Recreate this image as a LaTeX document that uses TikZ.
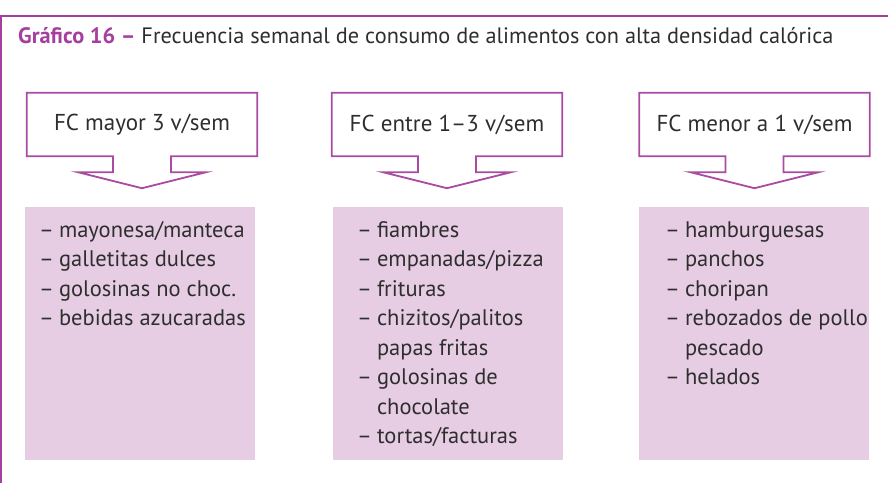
\documentclass[tikz,border=0pt]{standalone}
\usepackage{fontspec}
\setmainfont{PT Sans}
\usetikzlibrary{calc}
\definecolor{framepurple}{HTML}{A53E9E}
\definecolor{linepurple}{HTML}{A94BA3}
\definecolor{lilac}{HTML}{E7CDE4}
\definecolor{textgray}{HTML}{2E2E2E}
\tikzset{
  frameline/.style={draw=framepurple, line width=2.2pt},
  headbox/.style={minimum width=230pt, minimum height=63pt, inner sep=0pt, text=textgray,
    font=\fontsize{23}{26}\selectfont},
  calloutline/.style={draw=linepurple, line width=1.8pt, line join=miter},
  listbox/.style={fill=lilac, minimum width=230pt, minimum height=253pt, inner sep=0pt},
  listtext/.style={anchor=base west, inner sep=0pt, text=textgray,
    font=\fontsize{22.5}{29.5}\selectfont}
}
\newcommand\mycallout[1]{%
  \draw[calloutline] (#1.north west) -- (#1.north east) -- (#1.south east)
    -- ($(#1.south)+(29,0)$) -- ($(#1.south)+(29,16)$) -- ($(#1.south)+(64,16)$)
    -- ($(#1.south)+(0,32)$) -- ($(#1.south)+(-64,16)$) -- ($(#1.south)+(-29,16)$)
    -- ($(#1.south)+(-29,0)$) -- (#1.south west) -- cycle;}
\begin{document}
\begin{tikzpicture}[x=1pt,y=-1pt]
\useasboundingbox (0,0) rectangle (888,483);
% frame
\coordinate (ftl) at (1.2,16);
\coordinate (ftr) at (888,16);
\coordinate (fbl) at (1.2,483);
\draw[frameline] (fbl) -- (ftl) -- (ftr);
% title
\node[anchor=base west, inner sep=0pt, text=textgray, font=\fontsize{22.3}{26}\selectfont] (title) at (18,43)
  {\textcolor{framepurple}{\bfseries Gráfico 16 –} Frecuencia semanal de consumo de alimentos con alta densidad calórica};
% headers
\node[headbox] (h1) at (142,124.5) {FC mayor 3 v/sem};
\node[headbox] (h2) at (447,124.5) {FC entre 1–3 v/sem};
\node[headbox] (h3) at (754.5,124.5) {FC menor a 1 v/sem};
\mycallout{h1}
\mycallout{h2}
\mycallout{h3}
% list boxes
\node[listbox] (l1) at (140,333.5) {};
\node[listbox] (l2) at (447.5,333.5) {};
\node[listbox] (l3) at (753.5,333.5) {};
\node[listtext] (t1) at (39,237) {\begin{tabular}[t]{@{}l@{\hspace{5pt}}l@{}}
–& mayonesa/manteca\\
–& galletitas dulces\\
–& golosinas no choc.\\
–& bebidas azucaradas
\end{tabular}};
\node[listtext] (t2) at (357,237) {\begin{tabular}[t]{@{}l@{\hspace{5pt}}l@{}}
–& fiambres\\
–& empanadas/pizza\\
–& frituras\\
–& chizitos/palitos\\
 & papas fritas\\
–& golosinas de\\
 & chocolate\\
–& tortas/facturas
\end{tabular}};
\node[listtext] (t3) at (665,237) {\begin{tabular}[t]{@{}l@{\hspace{5pt}}l@{}}
–& hamburguesas\\
–& panchos\\
–& choripan\\
–& rebozados de pollo\\
 & pescado\\
–& helados
\end{tabular}};
\end{tikzpicture}
\end{document}
